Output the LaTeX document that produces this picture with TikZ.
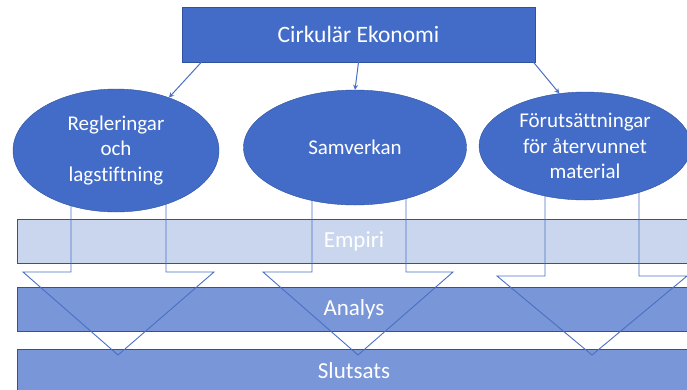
\documentclass[tikz,border=0pt]{standalone}
\usepackage{fontspec}
\setmainfont{Carlito}[Ligatures=NoCommon]
\usetikzlibrary{shapes.geometric,arrows.meta}

\definecolor{boxblue}{RGB}{66,108,200}
\definecolor{edgeblue}{RGB}{47,82,160}
\definecolor{lineblue}{RGB}{74,112,196}
\definecolor{lightband}{RGB}{201,214,238}
\definecolor{midband}{RGB}{120,150,216}

\begin{document}
\begin{tikzpicture}[x=1pt,y=-1pt,
	txt/.style={text=white,font=\fontsize{23}{26}\selectfont},
	topic/.style={txt,font=\fontsize{21}{25.5}\selectfont,draw=edgeblue,fill=boxblue,ellipse,inner sep=0pt,align=center},
	band/.style={txt,draw=edgeblue,fill=midband,minimum width=674pt,minimum height=44pt,inner sep=0pt},
	link/.style={draw=lineblue,line width=1pt,-{Stealth[length=5pt,width=5pt]}},
	outline/.style={draw=lineblue,line width=0.9pt,line join=miter}]

	\useasboundingbox (0,0) rectangle (687,389);
	\clip (0,0) rectangle (687,389);

	\node[band,fill=lightband] (empiri) at (354,241.5) {Empiri};
	\node[band] (analys) at (354,309) {Analys};
	\node[band] (slutsats) at (354,371) {Slutsats};

	\draw[outline] (71,150) -- (71,272) -- (23,272) -- (118,355)
	-- (214,272) -- (166,272) -- (166,150);
	\draw[outline] (312,150) -- (312,272) -- (263,272) -- (358,355)
	-- (453,272) -- (406,272) -- (406,150);
	\draw[outline] (545,150) -- (545,276) -- (497,276) -- (592,355)
	-- (687,276) -- (639,276) -- (639,150);

	\node[txt,font=\fontsize{23.5}{26}\selectfont,draw=edgeblue,fill=boxblue,minimum width=353pt,minimum height=55pt]
	(top) at (358.5,34.5) {Cirkulär Ekonomi};

	\node[topic,minimum width=206pt,minimum height=123pt] (regler) at (116,150.5)
	{Regleringar\\och\\lagstiftning};
	\node[topic,minimum width=223pt,minimum height=115pt] (samverkan) at (355,147.5)
	{Samverkan};
	\node[topic,minimum width=212pt,minimum height=108pt] (villkor) at (585,146)
	{Förutsättningar\\för återvunnet\\material};

	\draw[link] (top.190.4) -- (regler.45.5);
	\draw[link] (top.south) -- (samverkan.north);
	\draw[link] (top.-9.4) -- (villkor.116.6);
\end{tikzpicture}
\end{document}
